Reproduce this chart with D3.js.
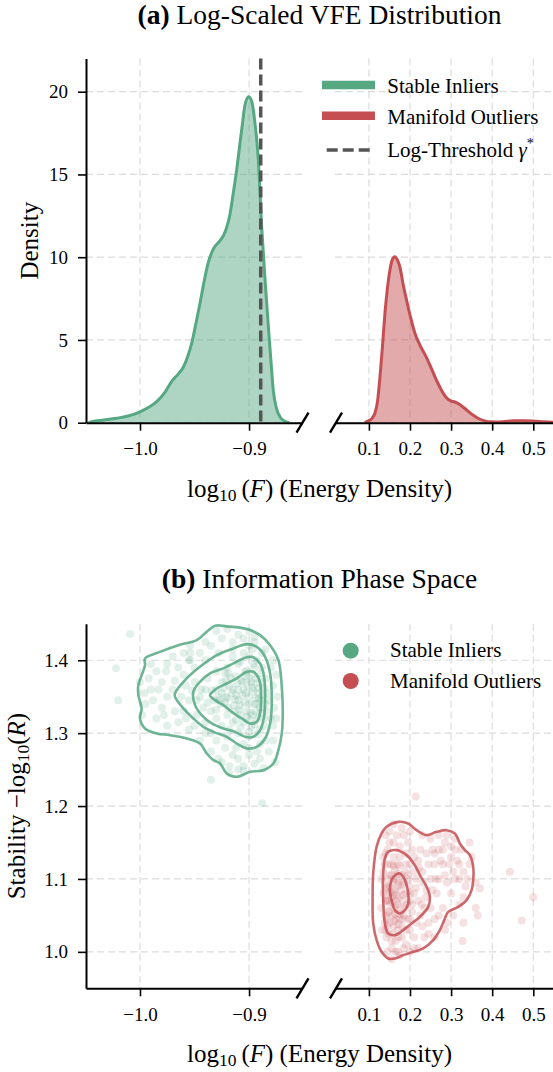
<!DOCTYPE html>
<html><head><meta charset="utf-8">
<script src="https://cdn.jsdelivr.net/npm/d3@7"></script>
<style>
body{margin:0;background:#fff}
svg{display:block}
svg text{font-family:"Liberation Serif","Times New Roman","DejaVu Serif",serif}
</style>
</head><body>
<svg id="c" width="553" height="1072"></svg>
<script>
// ---------------- DATA ----------------
const xTicksLeft = [-1.0, -0.9];
const xTicksRight = [0.1, 0.2, 0.3, 0.4, 0.5];
const densityTicks = [0, 5, 10, 15, 20];
const stabilityTicks = [1.0, 1.1, 1.2, 1.3, 1.4];
const seriesNames = ["Stable Inliers", "Manifold Outliers"];
const thresholdLabel = "Log-Threshold";
const logThreshold = -0.8893;

// KDE of log10(F) : [x, density]
const inlierKde = [[-1.047,0],[-1.0443,0.06],[-1.033,0.16],[-1.0214,0.27],[-1.010,0.42],[-1.0,0.66],[-0.992,0.93],[-0.9847,1.27],[-0.977,1.85],[-0.9709,2.5],[-0.9648,2.95],[-0.9603,3.35],[-0.9565,3.95],[-0.9526,4.8],[-0.949,5.9],[-0.945,7.2],[-0.941,8.6],[-0.9373,9.7],[-0.9327,10.5],[-0.9266,11.0],[-0.9235,11.3],[-0.9205,11.8],[-0.9175,12.6],[-0.9144,13.9],[-0.9113,15.3],[-0.9083,16.9],[-0.906,18.1],[-0.9037,19.2],[-0.9003,19.7],[-0.8975,19.4],[-0.8955,18.6],[-0.8915,15.9],[-0.8884,11.8],[-0.8853,8.6],[-0.8823,5.8],[-0.880,3.8],[-0.8777,1.9],[-0.875,0.9],[-0.8716,0.35],[-0.867,0.08],[-0.863,0]];
const outlierKde = [[0.090,0],[0.094,0.06],[0.105,0.2],[0.1146,0.57],[0.121,1.3],[0.127,2.78],[0.133,4.6],[0.139,6.6],[0.145,8.1],[0.151,9.2],[0.157,9.85],[0.163,10.03],[0.169,9.85],[0.1755,9.4],[0.183,8.4],[0.1917,7.4],[0.202,6.3],[0.212,5.4],[0.226,4.6],[0.240,3.95],[0.2525,3.25],[0.2647,2.55],[0.277,1.95],[0.289,1.5],[0.299,1.32],[0.309,1.25],[0.319,1.13],[0.329,0.95],[0.341,0.7],[0.354,0.45],[0.368,0.24],[0.382,0.11],[0.396,0.05],[0.411,0.04],[0.43,0.07],[0.451,0.12],[0.475,0.12],[0.5,0.1],[0.525,0.06],[0.548,0.03]];

// Phase space points: [log10 F, -log10 R]
const inlierPoints = [[-0.905,1.36],[-0.900,1.35],[-0.895,1.34],[-0.898,1.37],[-0.892,1.355],[-0.910,1.345],[-0.915,1.36],[-0.902,1.33],[-0.896,1.325],[-0.890,1.335],[-0.893,1.375],[-0.907,1.372],[-0.912,1.352],[-0.920,1.348],[-0.925,1.355],[-0.918,1.365],[-0.904,1.342],[-0.899,1.318],[-0.891,1.362],[-0.897,1.381],[-0.903,1.378],[-0.909,1.332],[-0.914,1.338],[-0.922,1.342],[-0.928,1.35],[-0.894,1.348],[-0.889,1.345],[-0.901,1.365],[-0.906,1.352],[-0.911,1.368],[-0.917,1.376],[-0.923,1.362],[-0.894,1.33],[-0.900,1.34],[-0.896,1.358],[-0.908,1.325],[-0.913,1.33],[-0.919,1.335],[-0.932,1.345],[-0.888,1.37],[-0.887,1.352],[-0.892,1.32],[-0.905,1.315],[-0.898,1.308],[-0.912,1.318],[-0.926,1.34],[-0.93,1.36],[-0.921,1.372],[-0.902,1.386],[-0.895,1.39],
[-0.903,1.355],[-0.897,1.362],[-0.891,1.348],[-0.908,1.338],[-0.913,1.346],[-0.899,1.328],[-0.894,1.368],[-0.906,1.37],[-0.916,1.355],[-0.921,1.35],[-0.927,1.345],[-0.91,1.36],[-0.895,1.312],[-0.902,1.322],[-0.889,1.328],[-0.893,1.34],[-0.9,1.375],[-0.904,1.384],[-0.912,1.378],[-0.919,1.382],[-0.925,1.37],[-0.934,1.358],[-0.938,1.342],[-0.93,1.332],[-0.92,1.325],[-0.915,1.315],[-0.908,1.308],[-0.9,1.302],[-0.89,1.305],[-0.886,1.32],[-0.885,1.34],[-0.886,1.362],[-0.889,1.382],[-0.896,1.395],[-0.908,1.398],[-0.922,1.382],[-0.944,1.36],[-0.948,1.345],[-0.952,1.358],[-0.958,1.365],
[-0.94,1.36],[-0.945,1.35],[-0.938,1.375],[-0.935,1.33],[-0.942,1.335],[-0.93,1.32],[-0.925,1.31],[-0.918,1.305],[-0.91,1.3],[-0.9,1.295],[-0.892,1.298],[-0.886,1.31],[-0.884,1.33],[-0.883,1.355],[-0.885,1.375],[-0.888,1.39],[-0.893,1.4],[-0.9,1.405],[-0.91,1.395],[-0.92,1.39],[-0.93,1.385],[-0.95,1.37],[-0.955,1.345],[-0.948,1.325],[-0.94,1.315],[-0.905,1.41],[-0.915,1.405],[-0.897,1.415],[-0.882,1.345],[-0.88,1.32],[-0.89,1.285],[-0.905,1.285],[-0.92,1.295],[-0.935,1.3],
[-0.96,1.38],[-0.965,1.39],[-0.97,1.36],[-0.975,1.35],[-0.98,1.37],[-0.985,1.385],[-0.99,1.36],[-0.995,1.34],[-0.985,1.32],[-0.975,1.31],[-0.965,1.315],[-0.96,1.33],[-0.955,1.4],[-0.945,1.41],[-0.935,1.42],[-0.925,1.43],[-0.915,1.425],[-0.905,1.43],[-0.895,1.425],[-0.885,1.415],[-0.878,1.40],[-0.875,1.38],[-0.874,1.35],[-0.875,1.32],[-0.878,1.29],[-0.882,1.275],[-0.89,1.265],[-0.9,1.27],[-0.91,1.265],[-0.918,1.255],[-0.925,1.26],[-0.935,1.275],[-0.945,1.29],[-0.955,1.305],[-0.99,1.395],[-0.97,1.405],[-0.95,1.39],[-0.98,1.335],[-1.0,1.37],[-0.998,1.325],[-0.91,1.25],[-0.905,1.255],[-0.93,1.44],[-0.92,1.443],[-0.9,1.44],[-0.954,1.42],[-0.954,1.41],[-0.954,1.40],
[-0.962,1.35],[-0.968,1.372],[-0.976,1.385],[-0.983,1.36],[-0.988,1.345],[-0.992,1.375],[-0.996,1.355],[-0.978,1.325],[-0.968,1.33],[-0.958,1.32],[-0.95,1.31],[-0.94,1.3],[-0.93,1.29],[-0.922,1.28],[-0.912,1.28],[-0.9,1.28],[-0.893,1.275],[-0.885,1.29],[-0.878,1.31],[-0.877,1.335],[-0.878,1.365],[-0.88,1.39],[-0.888,1.41],[-0.9,1.42],[-0.915,1.415],[-0.928,1.41],[-0.94,1.4],[-0.96,1.41],[-0.975,1.395],[-0.94,1.425],[-0.91,1.435],[-0.895,1.432],[-0.915,1.27],[-0.928,1.265],[-0.895,1.258],[-0.918,1.245],[-0.905,1.248],
[-1.009,1.436],[-1.022,1.389],[-1.02,1.345],[-0.935,1.236],[-0.888,1.204],[-0.887,1.252],[-0.876,1.26]];
const outlierPoints = [[0.16,1.08],[0.165,1.07],[0.17,1.09],[0.175,1.06],[0.158,1.095],[0.162,1.06],[0.168,1.1],[0.172,1.075],[0.178,1.085],[0.155,1.075],[0.15,1.09],[0.152,1.065],[0.158,1.05],[0.166,1.045],[0.175,1.045],[0.182,1.07],[0.185,1.095],[0.18,1.105],[0.163,1.112],[0.155,1.105],[0.148,1.08],[0.147,1.055],[0.16,1.035],[0.17,1.03],[0.185,1.05],[0.19,1.08],[0.192,1.065],[0.188,1.11],[0.17,1.12],[0.155,1.12],[0.145,1.1],[0.143,1.07],[0.15,1.04],[0.158,1.025],[0.18,1.035],[0.195,1.045],[0.2,1.07],[0.198,1.09],[0.195,1.105],[0.175,1.13],[0.16,1.13],[0.148,1.12],[0.142,1.09],[0.14,1.05],[0.145,1.035],[0.165,1.015],[0.18,1.02],[0.2,1.03],[0.205,1.055],[0.21,1.08],
[0.162,1.085],[0.167,1.078],[0.173,1.095],[0.157,1.068],[0.153,1.082],[0.17,1.065],[0.176,1.052],[0.164,1.052],[0.16,1.1],[0.171,1.107],[0.18,1.092],[0.184,1.078],[0.188,1.06],[0.182,1.045],[0.172,1.038],[0.162,1.042],[0.15,1.055],[0.146,1.07],[0.144,1.088],[0.15,1.105],[0.16,1.118],[0.175,1.118],[0.19,1.12],[0.196,1.1],[0.2,1.08],[0.205,1.065],[0.2,1.045],[0.19,1.03],[0.172,1.02],[0.155,1.015],[0.148,1.025],[0.145,1.045],
[0.215,1.1],[0.22,1.07],[0.225,1.05],[0.21,1.11],[0.2,1.12],[0.19,1.135],[0.175,1.145],[0.16,1.15],[0.145,1.14],[0.138,1.12],[0.135,1.08],[0.138,1.04],[0.142,1.02],[0.155,1.005],[0.17,1.0],[0.19,1.01],[0.21,1.02],[0.23,1.035],[0.235,1.06],[0.24,1.085],[0.23,1.11],[0.22,1.125],[0.205,1.14],[0.25,1.1],[0.26,1.12],[0.27,1.1],[0.28,1.12],[0.265,1.08],[0.25,1.06],[0.245,1.04],[0.225,1.14],[0.24,1.135],[0.255,1.14],[0.27,1.14],[0.285,1.15],[0.3,1.13],[0.31,1.14],[0.29,1.095],[0.3,1.08],[0.31,1.1],
[0.215,1.088],[0.222,1.115],[0.232,1.095],[0.238,1.075],[0.228,1.065],[0.215,1.04],[0.21,1.13],[0.195,1.15],[0.245,1.12],[0.255,1.085],[0.262,1.1],[0.275,1.125],[0.285,1.105],[0.295,1.12],[0.305,1.11],[0.315,1.125],[0.32,1.1],[0.3,1.145],[0.28,1.14],[0.26,1.135],[0.185,1.16],[0.168,1.16],[0.15,1.15],[0.14,1.135],[0.135,1.11],[0.14,1.07],[0.14,1.03],[0.165,1.0],[0.185,1.005],[0.21,1.005],[0.245,1.025],[0.27,1.05],
[0.32,1.12],[0.33,1.11],[0.335,1.09],[0.33,1.075],[0.32,1.065],[0.34,1.1],[0.345,1.12],[0.325,1.14],[0.31,1.155],[0.29,1.16],[0.27,1.16],[0.25,1.155],[0.23,1.16],[0.2,1.165],[0.18,1.17],[0.16,1.175],[0.15,1.165],[0.14,1.16],[0.135,1.13],[0.13,1.1],[0.13,1.06],[0.132,1.03],[0.145,1.0],[0.155,0.99],[0.175,0.995],[0.2,1.0],[0.22,1.005],[0.26,1.045],[0.28,1.06],[0.29,1.04],[0.26,1.02],[0.235,1.02],[0.35,1.13],[0.345,1.15],
[0.214,1.213],[0.443,1.11],[0.5,1.075],[0.472,1.043],[0.328,1.015],[0.36,1.06],[0.36,1.095],[0.305,1.05],[0.285,1.03],[0.33,1.04],[0.37,1.087],[0.365,1.05]];

// Density contour levels
const inlierContour1 = [[-0.9954,1.4025],[-0.9817,1.4115],[-0.9649,1.4207],[-0.9480,1.4276],[-0.9388,1.4390],[-0.9312,1.4474],[-0.9205,1.4465],[-0.9021,1.4428],[-0.8899,1.4344],[-0.8807,1.4207],[-0.8731,1.4001],[-0.8700,1.3635],[-0.8691,1.3270],[-0.8700,1.2996],[-0.8731,1.2767],[-0.8777,1.2584],[-0.8869,1.2492],[-0.8991,1.2469],[-0.9113,1.2401],[-0.9205,1.2447],[-0.9266,1.2584],[-0.9327,1.2630],[-0.9388,1.2721],[-0.9450,1.2858],[-0.9572,1.2927],[-0.9725,1.2972],[-0.9847,1.2996],[-0.9954,1.3064],[-1.0000,1.3201],[-0.9985,1.3338],[-1.0015,1.3521],[-1.0015,1.3658],[-0.9985,1.3795],[-0.9954,1.3932]];
const inlierContour2 = [[-0.9679,1.3545],[-0.9572,1.3750],[-0.9450,1.3910],[-0.9296,1.4070],[-0.9144,1.4162],[-0.9021,1.4221],[-0.8930,1.4184],[-0.8853,1.4047],[-0.8807,1.3819],[-0.8792,1.3407],[-0.8807,1.3133],[-0.8853,1.2927],[-0.8930,1.2813],[-0.9021,1.2790],[-0.9113,1.2858],[-0.9205,1.2950],[-0.9327,1.3018],[-0.9419,1.3087],[-0.9511,1.3202],[-0.9602,1.3339],[-0.9679,1.3498]];
const inlierContour3 = [[-0.9511,1.3567],[-0.9450,1.3704],[-0.9358,1.3819],[-0.9236,1.3888],[-0.9144,1.3956],[-0.9053,1.4025],[-0.8976,1.4047],[-0.8899,1.3956],[-0.8862,1.3772],[-0.8853,1.3498],[-0.8862,1.3224],[-0.8899,1.3041],[-0.8960,1.2950],[-0.9037,1.2950],[-0.9128,1.3018],[-0.9236,1.3064],[-0.9342,1.3133],[-0.9434,1.3247],[-0.9495,1.3384]];
const inlierContour4 = [[-0.9358,1.3521],[-0.9296,1.3613],[-0.9205,1.3681],[-0.9113,1.3750],[-0.9021,1.3841],[-0.8960,1.3841],[-0.8905,1.3727],[-0.8890,1.3498],[-0.8899,1.3270],[-0.8930,1.3155],[-0.8991,1.3133],[-0.9067,1.3202],[-0.9159,1.3292],[-0.9236,1.3384],[-0.9312,1.3453]];
const outlierContour1 = [[0.1430,1.1715],[0.1713,1.1783],[0.1956,1.1761],[0.2160,1.1669],[0.2404,1.1601],[0.2647,1.1646],[0.2890,1.1669],[0.3092,1.1624],[0.3214,1.1487],[0.3336,1.1395],[0.3457,1.1327],[0.3538,1.1166],[0.3538,1.0984],[0.3499,1.0846],[0.3377,1.0709],[0.3173,1.0617],[0.2929,1.0549],[0.2849,1.0458],[0.2727,1.0298],[0.2565,1.0160],[0.2321,1.0047],[0.2078,1.0000],[0.1835,0.9955],[0.1633,0.9909],[0.1470,0.9909],[0.1309,1.0000],[0.1187,1.0160],[0.1105,1.0390],[0.1090,1.0709],[0.1105,1.1075],[0.1187,1.1440],[0.1309,1.1624]];
const outlierContour2 = [[0.1470,1.1372],[0.1674,1.1395],[0.1917,1.1327],[0.2119,1.1189],[0.2241,1.1052],[0.2404,1.0892],[0.2484,1.0754],[0.2443,1.0617],[0.2241,1.0480],[0.2039,1.0390],[0.1835,1.0298],[0.1633,1.0229],[0.1470,1.0252],[0.1389,1.0390],[0.1348,1.0709],[0.1348,1.1075],[0.1389,1.1281]];
const outlierContour3 = [[0.1633,1.1052],[0.1754,1.1075],[0.1876,1.0984],[0.1956,1.0801],[0.1956,1.0664],[0.1876,1.0572],[0.1754,1.0527],[0.1633,1.0572],[0.1552,1.0709],[0.1511,1.0846],[0.1552,1.0984]];

// ---------------- STYLE / LAYOUT ----------------
const GREEN = "#55a882", RED = "#c44e52", THR = "#555555";
const XL = [86, 302.5], XR = [335, 553];
const TOP = [58.6, 422.7], BOT = [623.8, 988.3];

const svg = d3.select("#c");
const xL = d3.scaleLinear().domain([-1.0495, -0.851]).range(XL);
const xR = d3.scaleLinear().domain([0.0175, 0.548]).range(XR);
const yTop = d3.scaleLinear().domain([0, 22]).range([TOP[1], TOP[0]]);
const yBot = d3.scaleLinear().domain([0.95, 1.45]).range([BOT[1], BOT[0]]);

const defs = svg.append("defs");
function clip(id, x0, x1, y0, y1) {
  defs.append("clipPath").attr("id", id).append("rect")
    .attr("x", x0).attr("y", y0).attr("width", x1 - x0).attr("height", y1 - y0);
  return `url(#${id})`;
}

function grid(g, xs, xt, ys, yt, X, Y) {
  const gg = g.append("g").attr("stroke", "#dcdcdc").attr("stroke-width", 1.2).attr("stroke-dasharray", "7,4");
  gg.selectAll(null).data(xt).join("line")
    .attr("x1", d => xs(d)).attr("x2", d => xs(d)).attr("y1", Y[0]).attr("y2", Y[1]);
  gg.selectAll(null).data(yt).join("line")
    .attr("y1", d => ys(d)).attr("y2", d => ys(d)).attr("x1", X[0]).attr("x2", X[1]);
}

function styleAxis(a) {
  a.attr("font-family", null).attr("font-size", 19);
  a.select(".domain").attr("stroke-width", 2).attr("stroke", "#000");
  a.selectAll(".tick line").attr("stroke-width", 1.6).attr("stroke", "#000");
  a.selectAll(".tick text").attr("fill", "#000");
}

function axes(yScale, yTicks, yFmt, Y) {
  styleAxis(svg.append("g").attr("transform", `translate(0,${Y[1]})`)
    .call(d3.axisBottom(xL).tickValues(xTicksLeft).tickFormat(d3.format(".1f")).tickSize(8).tickSizeOuter(0).tickPadding(11)));
  styleAxis(svg.append("g").attr("transform", `translate(0,${Y[1]})`)
    .call(d3.axisBottom(xR).tickValues(xTicksRight).tickFormat(d3.format(".1f")).tickSize(8).tickSizeOuter(0).tickPadding(11)));
  styleAxis(svg.append("g").attr("transform", `translate(${XL[0]},0)`)
    .call(d3.axisLeft(yScale).tickValues(yTicks).tickFormat(d3.format(yFmt)).tickSize(8).tickSizeOuter(0).tickPadding(10)));
  const bm = svg.append("g").attr("stroke", "#000").attr("stroke-width", 2.4);
  [XL[1], XR[0] + 1].forEach(cx => {
    bm.append("line").attr("x1", cx - 6).attr("y1", Y[1] + 10).attr("x2", cx + 6).attr("y2", Y[1] - 10);
  });
}

function xLabel(y) {
  const t = svg.append("text").attr("x", (XL[0] + XR[1]) / 2).attr("y", y)
    .attr("text-anchor", "middle").attr("font-size", 25);
  t.append("tspan").text("log");
  t.append("tspan").attr("font-size", 17.5).attr("dy", 4).text("10");
  t.append("tspan").attr("dy", -4).text("\u2009(");
  t.append("tspan").attr("font-style", "italic").text("F");
  t.append("tspan").text(") (Energy Density)");
}

function title(y, bold, rest) {
  const t = svg.append("text").attr("x", (XL[0] + XR[1]) / 2).attr("y", y)
    .attr("text-anchor", "middle").attr("font-size", 27.5);
  t.append("tspan").attr("font-weight", "bold").text(bold);
  t.append("tspan").text(" " + rest);
}

// ---------------- PANEL (a) ----------------
const gA = svg.append("g");
grid(gA, xL, xTicksLeft, yTop, densityTicks, XL, TOP);
grid(gA, xR, xTicksRight, yTop, densityTicks, XR, TOP);
const cA1 = clip("cA1", XL[0], XL[1], TOP[0], TOP[1]);
const cA2 = clip("cA2", XR[0], XR[1], TOP[0], TOP[1]);

function kde(data, xs, color, cl) {
  const g = svg.append("g").attr("clip-path", cl);
  g.append("path").datum(data)
    .attr("d", d3.area().x(d => xs(d[0])).y0(yTop(0)).y1(d => yTop(d[1])).curve(d3.curveMonotoneX))
    .attr("fill", color).attr("fill-opacity", 0.48).attr("stroke", "none");
  g.append("path").datum(data)
    .attr("d", d3.line().x(d => xs(d[0])).y(d => yTop(d[1])).curve(d3.curveMonotoneX))
    .attr("fill", "none").attr("stroke", color).attr("stroke-width", 3);
}
kde(inlierKde, xL, GREEN, cA1);
kde(outlierKde, xR, RED, cA2);

svg.append("line").attr("x1", xL(logThreshold)).attr("x2", xL(logThreshold))
  .attr("y1", TOP[0]).attr("y2", TOP[1])
  .attr("stroke", THR).attr("stroke-width", 3.5).attr("stroke-dasharray", "11,5");

axes(yTop, densityTicks, "d", TOP);
title(24, "(a)", "Log-Scaled VFE Distribution");
xLabel(496.7);
svg.append("text").attr("transform", `translate(38,${(TOP[0] + TOP[1]) / 2}) rotate(-90)`)
  .attr("text-anchor", "middle").attr("font-size", 25).text("Density");

// legend (a)
const legA = svg.append("g").attr("font-size", 21);
[{name: seriesNames[0], color: GREEN, y: 85, ty: 93},
 {name: seriesNames[1], color: RED, y: 115.7, ty: 123.5}].forEach(r => {
  legA.append("line").attr("x1", 322).attr("x2", 375).attr("y1", r.y).attr("y2", r.y)
    .attr("stroke", r.color).attr("stroke-width", 8.5);
  legA.append("text").attr("x", 387.3).attr("y", r.ty).text(r.name);
});
legA.append("line").attr("x1", 326.7).attr("x2", 370).attr("y1", 150).attr("y2", 150)
  .attr("stroke", THR).attr("stroke-width", 3.5).attr("stroke-dasharray", "11,5");
const thrT = legA.append("text").attr("x", 387.3).attr("y", 157);
thrT.append("tspan").text(thresholdLabel + " ");
thrT.append("tspan").attr("font-style", "italic").text("\u03b3");
thrT.append("tspan").attr("font-size", 14).attr("dy", -9).text("*");

// ---------------- PANEL (b) ----------------
const gB = svg.append("g");
grid(gB, xL, xTicksLeft, yBot, stabilityTicks, XL, BOT);
grid(gB, xR, xTicksRight, yBot, stabilityTicks, XR, BOT);
const cB1 = clip("cB1", XL[0], XL[1], BOT[0], BOT[1]);
const cB2 = clip("cB2", XR[0], XR[1], BOT[0], BOT[1]);

function scatter(points, xs, color, cl) {
  svg.append("g").attr("clip-path", cl).selectAll("circle").data(points).join("circle")
    .attr("cx", d => xs(d[0])).attr("cy", d => yBot(d[1])).attr("r", 4)
    .attr("fill", color).attr("fill-opacity", 0.17);
}
function contours(rings, xs, color, cl) {
  const line = d3.line().x(d => xs(d[0])).y(d => yBot(d[1])).curve(d3.curveCatmullRomClosed.alpha(0.5));
  svg.append("g").attr("clip-path", cl).selectAll("path").data(rings).join("path")
    .attr("d", line).attr("fill", "none").attr("stroke", color).attr("stroke-opacity", 0.85)
    .attr("stroke-width", 2.6);
}
scatter(inlierPoints, xL, GREEN, cB1);
scatter(outlierPoints, xR, RED, cB2);
contours([inlierContour1, inlierContour2, inlierContour3, inlierContour4], xL, GREEN, cB1);
contours([outlierContour1, outlierContour2, outlierContour3], xR, RED, cB2);

axes(yBot, stabilityTicks, ".1f", BOT);
title(588, "(b)", "Information Phase Space");
xLabel(1062);
const yl = svg.append("text").attr("transform", `translate(25,${(BOT[0] + BOT[1]) / 2}) rotate(-90)`)
  .attr("text-anchor", "middle").attr("font-size", 25);
yl.append("tspan").text("Stability \u2212log");
yl.append("tspan").attr("font-size", 17.5).attr("dy", 4).text("10");
yl.append("tspan").attr("dy", -4).text("(");
yl.append("tspan").attr("font-style", "italic").text("R");
yl.append("tspan").text(")");

// legend (b)
const legB = svg.append("g").attr("font-size", 21);
[{name: seriesNames[0], color: GREEN, y: 650.7, ty: 657}, {name: seriesNames[1], color: RED, y: 681, ty: 687.5}]
  .forEach(r => {
    legB.append("circle").attr("cx", 350.7).attr("cy", r.y).attr("r", 8).attr("fill", r.color);
    legB.append("text").attr("x", 390).attr("y", r.ty).text(r.name);
  });
</script>
</body></html>
